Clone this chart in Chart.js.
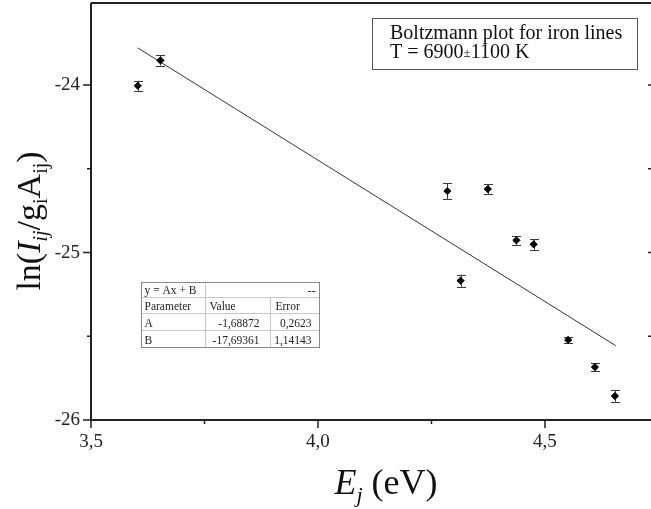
<!DOCTYPE html>
<html>
<head>
<meta charset="utf-8">
<script src="https://cdn.jsdelivr.net/npm/chart.js@4.4.1/dist/chart.umd.min.js"></script>
<style>
  html, body { margin: 0; padding: 0; background: #fff; }
  canvas { display: block; }
</style>
</head>
<body>
<canvas id="chart" width="651" height="509"></canvas>
<script>
// Upper-level energies (eV) and Boltzmann ordinate ln(I/gA) for each iron line
const energy      = [3.603, 3.653, 4.285, 4.314, 4.374, 4.437, 4.475, 4.551, 4.610, 4.654];
const lnIntensity = [-24.004, -23.853, -24.633, -25.168, -24.621, -24.927, -24.951, -25.522, -25.684, -25.857];
const errors      = [0.030, 0.031, 0.047, 0.036, 0.029, 0.026, 0.032, 0.020, 0.022, 0.034];

// Linear fit y = A x + B
const fitA = -1.68872;
const fitB = -17.69361;
const fitRange = [3.603, 4.656];

// Axis ticks
const xTicks = [3.5, 4.0, 4.5];
const xTickLabels = ['3,5', '4,0', '4,5'];
const xMinorTicks = [3.75, 4.25];
const yTicks = [-26, -25, -24];
const yTickLabels = ['-26', '-25', '-24'];
const yMinorTicks = [-25.5, -24.5];

// Fit-result table
const tableRows = [
  ['y = Ax + B', '', '--'],
  ['Parameter', 'Value', 'Error'],
  ['A', '-1,68872', '0,2623'],
  ['B', '-17,69361', '1,14143']
];
const titleLine1 = 'Boltzmann plot for iron lines';
const titleLine2 = ['T = 6900', '\u00B1', '1100 K'];

const SERIF = '"Liberation Serif", "DejaVu Serif", serif';

function richText(ctx, segs, x, y, align) {
  let total = 0;
  segs.forEach(s => { ctx.font = s.font; s.w = ctx.measureText(s.t).width; total += s.w; });
  let cx = align === 'center' ? x - total / 2 : x;
  segs.forEach(s => {
    ctx.font = s.font;
    ctx.fillText(s.t, cx, y + (s.dy || 0));
    cx += s.w;
  });
}

function noScalePadding(s) {
  s.paddingTop = 0; s.paddingBottom = 0; s.paddingLeft = 0; s.paddingRight = 0;
}

const decorations = {
  id: 'decorations',
  beforeDatasetsDraw(chart) {
    const { ctx, scales: { x, y } } = chart;
    ctx.save();
    ctx.strokeStyle = '#3a3a3a';
    ctx.lineWidth = 1;
    const cap = 4.5;
    energy.forEach((e, i) => {
      const px = Math.round(x.getPixelForValue(e)) + 0.5;
      const top = y.getPixelForValue(lnIntensity[i] + errors[i]);
      const bot = y.getPixelForValue(lnIntensity[i] - errors[i]);
      ctx.beginPath();
      ctx.moveTo(px, top); ctx.lineTo(px, bot);
      ctx.moveTo(px - cap, Math.round(top) + 0.5); ctx.lineTo(px + cap, Math.round(top) + 0.5);
      ctx.moveTo(px - cap, Math.round(bot) + 0.5); ctx.lineTo(px + cap, Math.round(bot) + 0.5);
      ctx.stroke();
    });
    ctx.restore();
  },
  afterDraw(chart) {
    const { ctx, chartArea: a, scales: { x, y } } = chart;
    ctx.save();
    // frame
    ctx.strokeStyle = '#222';
    ctx.lineWidth = 2;
    ctx.beginPath();
    ctx.moveTo(a.left, a.top); ctx.lineTo(a.left, a.bottom); ctx.lineTo(a.right, a.bottom);
    ctx.moveTo(a.left, a.top); ctx.lineTo(a.right, a.top);
    ctx.stroke();
    // ticks
    ctx.lineWidth = 1.5;
    ctx.beginPath();
    xTicks.forEach(v => { const p = x.getPixelForValue(v); ctx.moveTo(p, a.bottom); ctx.lineTo(p, a.bottom + 8); });
    xMinorTicks.forEach(v => { const p = x.getPixelForValue(v); ctx.moveTo(p, a.bottom); ctx.lineTo(p, a.bottom + 4); });
    yTicks.forEach(v => { const p = y.getPixelForValue(v); ctx.moveTo(a.left, p); ctx.lineTo(a.left - 8, p); });
    yMinorTicks.forEach(v => { const p = y.getPixelForValue(v); ctx.moveTo(a.left, p); ctx.lineTo(a.left - 4, p); });
    yTicks.concat(yMinorTicks).forEach(v => { const p = y.getPixelForValue(v); ctx.moveTo(a.right, p); ctx.lineTo(a.right - 3, p); });
    ctx.stroke();

    // axis titles
    ctx.fillStyle = '#111';
    ctx.textBaseline = 'alphabetic';
    richText(ctx, [
      { t: 'E', font: `italic 36px ${SERIF}` },
      { t: 'j', font: `italic 22px ${SERIF}`, dy: 8 },
      { t: ' (eV)', font: `36px ${SERIF}` }
    ], 386, 494, 'center');

    ctx.save();
    ctx.translate(40, 221);
    ctx.rotate(-Math.PI / 2);
    richText(ctx, [
      { t: 'ln(', font: `34px ${SERIF}` },
      { t: 'I', font: `italic 34px ${SERIF}` },
      { t: 'ij', font: `italic 20px ${SERIF}`, dy: 7 },
      { t: '/g', font: `34px ${SERIF}` },
      { t: 'i', font: `20px ${SERIF}`, dy: 7 },
      { t: 'A', font: `34px ${SERIF}` },
      { t: 'ij', font: `20px ${SERIF}`, dy: 7 },
      { t: ')', font: `34px ${SERIF}` }
    ], 0, 0, 'center');
    ctx.restore();

    // title box
    ctx.strokeStyle = '#555';
    ctx.lineWidth = 1;
    ctx.strokeRect(372.5, 18.5, 265, 51);
    ctx.fillStyle = '#111';
    ctx.font = `20px ${SERIF}`;
    ctx.fillText(titleLine1, 390, 39);
    richText(ctx, [
      { t: titleLine2[0], font: `20px ${SERIF}` },
      { t: titleLine2[1], font: `13px ${SERIF}`, dy: -1 },
      { t: titleLine2[2], font: `20px ${SERIF}` }
    ], 390, 58, 'left');

    // fit table
    const cols = [141.5, 205.5, 270.5, 319.5];
    const rows = [282.5, 297.5, 313.5, 330.5, 347.5];
    ctx.strokeStyle = '#c8c8c8';
    ctx.beginPath();
    rows.slice(1, -1).forEach(r => { ctx.moveTo(cols[0], r); ctx.lineTo(cols[3], r); });
    ctx.moveTo(cols[1], rows[0]); ctx.lineTo(cols[1], rows[4]);
    ctx.moveTo(cols[2], rows[1]); ctx.lineTo(cols[2], rows[4]);
    ctx.stroke();
    ctx.strokeStyle = '#888';
    ctx.strokeRect(cols[0], rows[0], cols[3] - cols[0], rows[4] - rows[0]);
    ctx.font = `11.5px ${SERIF}`;
    ctx.fillStyle = '#222';
    tableRows.forEach((row, ri) => {
      const base = rows[ri + 1] - 3.5;
      ctx.textAlign = 'left';
      ctx.fillText(row[0], cols[0] + 3, base);
      if (ri === 0) {
        ctx.textAlign = 'right';
        ctx.fillText(row[2], cols[3] - 4, base);
      } else if (ri === 1) {
        ctx.fillText(row[1], cols[1] + 4, base);
        ctx.fillText(row[2], cols[2] + 5, base);
      } else {
        ctx.textAlign = 'right';
        ctx.fillText(row[1], cols[2] - 11, base);
        ctx.fillText(row[2], cols[3] - 8, base);
      }
    });
    ctx.restore();
  }
};

new Chart(document.getElementById('chart'), {
  type: 'scatter',
  data: {
    datasets: [
      {
        label: 'fit',
        data: fitRange.map(e => ({ x: e, y: fitA * e + fitB })),
        showLine: true,
        borderColor: '#333',
        borderWidth: 1,
        pointRadius: 0,
        order: 2
      },
      {
        label: 'Fe I',
        data: energy.map((e, i) => ({ x: e, y: lnIntensity[i] })),
        pointStyle: 'rectRot',
        pointRadius: 3.6,
        backgroundColor: '#000',
        borderColor: '#000',
        borderWidth: 1,
        order: 1
      }
    ]
  },
  options: {
    responsive: false,
    animation: false,
    devicePixelRatio: 1,
    layout: { autoPadding: false, padding: { top: 3, right: 0, left: 0, bottom: 0 } },
    plugins: { legend: { display: false }, tooltip: { enabled: false } },
    scales: {
      x: {
        type: 'linear',
        min: 3.5,
        max: 4.7335,
        border: { display: false },
        grid: { display: true, drawOnChartArea: false, drawTicks: true, tickLength: 8, color: 'rgba(0,0,0,0)' },
        afterBuildTicks: s => { s.ticks = xTicks.map(v => ({ value: v })); },
        afterFit: s => { s.height = 89; noScalePadding(s); },
        ticks: {
          padding: 3,
          color: '#222',
          font: { family: SERIF, size: 19 },
          maxRotation: 0,
          callback: v => xTickLabels[xTicks.findIndex(t => Math.abs(t - v) < 1e-6)] ?? ''
        }
      },
      y: {
        type: 'linear',
        min: -26,
        max: -23.51,
        border: { display: false },
        grid: { display: true, drawOnChartArea: false, drawTicks: true, tickLength: 8, color: 'rgba(0,0,0,0)' },
        afterBuildTicks: s => { s.ticks = yTicks.map(v => ({ value: v })); },
        afterFit: s => { s.width = 91; noScalePadding(s); },
        ticks: {
          padding: 3,
          color: '#222',
          font: { family: SERIF, size: 19 },
          callback: v => yTickLabels[yTicks.findIndex(t => Math.abs(t - v) < 1e-6)] ?? ''
        }
      }
    }
  },
  plugins: [decorations]
});
</script>
</body>
</html>
